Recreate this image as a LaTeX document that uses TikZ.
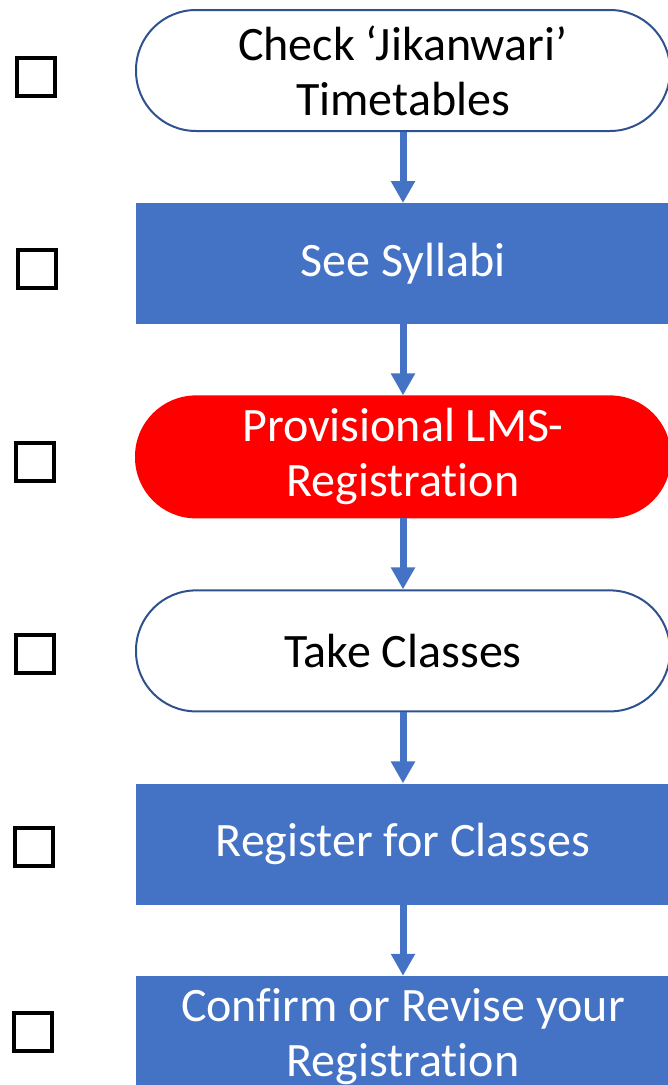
\documentclass[tikz,border=0pt]{standalone}
\usepackage{fontspec}
\setmainfont[Ligatures=NoCommon]{Carlito}
\usetikzlibrary{positioning, arrows.meta}

\definecolor{procblue}{HTML}{4472C4}
\definecolor{termblue}{HTML}{2F528F}
\definecolor{provred}{HTML}{FF0000}

\begin{document}
\begin{tikzpicture}[x=1pt, y=1pt]
  \newcommand\stepboxwidth{534pt}
  \newcommand\stepboxheight{121pt}
  \newcommand\stepgap{71pt}
  \newcommand\tickgap{78pt}

  \tikzset{
    flowbox/.style={minimum width=\stepboxwidth, minimum height=\stepboxheight, inner sep=0pt, align=center, font=\fontsize{48}{55}\selectfont},
    startstop/.style={flowbox, draw=termblue, line width=2pt, rounded corners=60pt, fill=white},
    process/.style={flowbox, fill=procblue, text=white},
    tickbox/.style={draw, line width=4pt, minimum size=38pt, inner sep=0pt},
    flowarrow/.style={draw=procblue, line width=7pt, -{Triangle[width=23pt, length=22pt]}}
  }

  \useasboundingbox (0,0) rectangle (668,-1085);

  \node[startstop] at (403,-70.5) (chk) {Check ‘Jikanwari’\\Timetables};
  \node[process, below=\stepgap of chk] (syl) {See Syllabi};
  \node[startstop, fill=provred, draw=provred, text=white, below=\stepgap of syl] (prov) {Provisional LMS-\\Registration};
  \node[startstop, below=\stepgap of prov] (take) {Take Classes};
  \node[process, below=\stepgap of take] (reg) {Register for Classes};
  \node[process, below=\stepgap of reg] (conf) {Confirm or Revise your\\Registration};

  % tick boxes on the left
  \foreach \step/\dy/\dx in {chk/6/0, syl/5/0, prov/5/1, take/3/1, reg/3/3, conf/-5/4}{
    \node[tickbox, left=\tickgap of \step, yshift=-\dy pt, xshift=-\dx pt] (tick-\step) {};
  }

  \foreach \from/\to in {chk/syl, syl/prov, prov/take, take/reg, reg/conf}{
    \draw[flowarrow] (\from) -- (\to);
  }
\end{tikzpicture}
\end{document}
